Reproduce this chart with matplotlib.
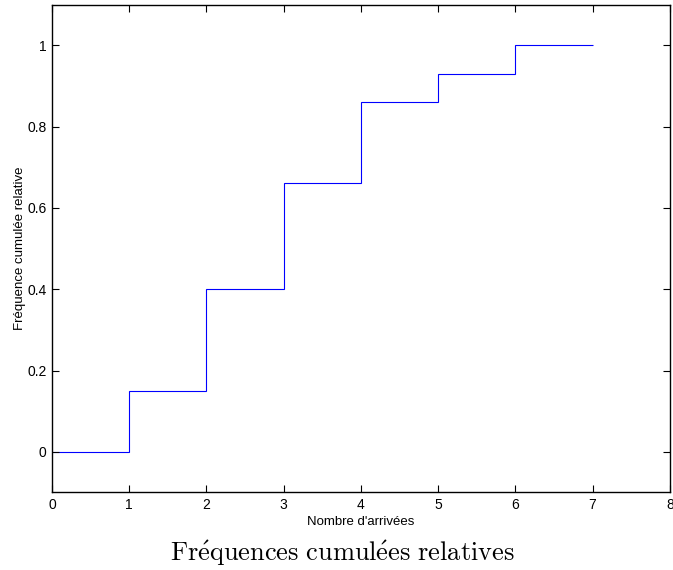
import numpy as np
import matplotlib
matplotlib.use("Agg")
import matplotlib.pyplot as plt

plt.rcParams['mathtext.fontset'] = 'cm'

# data
arrivals = [0, 1, 2, 3, 4, 5, 6, 7]
cum_freq = [0, 0.15, 0.40, 0.66, 0.86, 0.93, 1.0]

x_ticks = [0, 1, 2, 3, 4, 5, 6, 7, 8]
y_ticks = [0, 0.2, 0.4, 0.6, 0.8, 1]
y_tick_labels = ['0', '0.2', '0.4', '0.6', '0.8', '1']

fig = plt.figure(figsize=(6.73, 5.70), dpi=100)
ax = fig.add_axes([0.0773, 0.136, 0.918, 0.856])

ax.stairs(cum_freq, arrivals, baseline=None, color=(0, 0, 1), linewidth=0.8)

ax.set_xlim(0, 8)
ax.set_ylim(-0.1, 1.1)
ax.set_xticks(x_ticks)
ax.set_xticklabels([str(t) for t in x_ticks], fontsize=10, family='Liberation Sans')
ax.set_yticks(y_ticks)
ax.set_yticklabels(y_tick_labels, fontsize=10, family='Liberation Sans')

# matlab style box with inward ticks on every side
ax.tick_params(direction='in', top=True, right=True, length=5, width=0.8, pad=4)
for s in ax.spines.values():
    s.set_linewidth(1.0)

ax.set_xlabel("Nombre d'arrivées", fontsize=9.5, family='Liberation Sans', labelpad=3)
ax.set_ylabel("Fréquence cumulée relative", fontsize=9.5, family='Liberation Sans', labelpad=1)

fig.text(0.508, 0.016, r"$\mathrm{Fr\acute{e}quences\ cumul\acute{e}es\ relatives}$",
         ha='center', va='baseline', fontsize=19)

fig.savefig('out.png', dpi=100)
